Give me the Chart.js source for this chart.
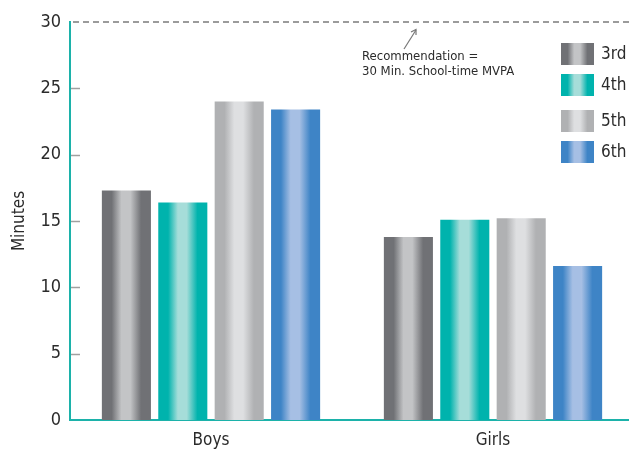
<!DOCTYPE html>
<html>
<head>
<meta charset="utf-8">
<title>School-time MVPA by grade</title>
<script src="https://cdn.jsdelivr.net/npm/chart.js@4"></script>
<style>
  html, body { margin: 0; padding: 0; background: #fff; overflow: hidden; }
  #wrap { width: 634px; height: 449px; position: relative; }
</style>
</head>
<body>
<div id="wrap"><canvas id="chart"></canvas></div>
<script>
var groups = ["Boys", "Girls"];
var grades = ["3rd", "4th", "5th", "6th"];
var minutes3rd = [17.3, 13.8];
var minutes4th = [16.4, 15.1];
var minutes5th = [24.0, 15.2];
var minutes6th = [23.4, 11.6];
var yTicks = [0, 5, 10, 15, 20, 25, 30];
var recommended = 30;
var noteLines = ["Recommendation =", "30 Min. School-time MVPA"];

// edge / highlight colours for each grade's cylinder shading
var shades = [
  { edge: "#707175", light: "#c3c4c6" },
  { edge: "#00b3ad", light: "#a6ddd9" },
  { edge: "#b0b1b3", light: "#dedfe1" },
  { edge: "#3e84c6", light: "#a6bfe4" }
];

var FONT = '"Liberation Sans Narrow", "DejaVu Sans Condensed", "Arial Narrow", sans-serif';
var TEAL = "#1cb2aa";

function cylinder(ctx, x0, x1, shade) {
  var g = ctx.createLinearGradient(x0, 0, x1, 0);
  g.addColorStop(0, shade.edge);
  g.addColorStop(0.2, shade.edge);
  g.addColorStop(0.4, shade.light);
  g.addColorStop(0.58, shade.light);
  g.addColorStop(0.8, shade.edge);
  g.addColorStop(1, shade.edge);
  return g;
}

// gives every bar its own horizontal gradient once positions are known
var shadingPlugin = {
  id: "shading",
  beforeDatasetsDraw: function (chart) {
    var ctx = chart.ctx;
    chart.data.datasets.forEach(function (ds, i) {
      chart.getDatasetMeta(i).data.forEach(function (bar) {
        var x0 = bar.x - bar.width / 2;
        var x1 = bar.x + bar.width / 2;
        bar.options = Object.assign({}, bar.options, {
          backgroundColor: cylinder(ctx, x0, x1, shades[i])
        });
      });
    });
  }
};

// dashed target line, inner tick marks, note and legend
var decorPlugin = {
  id: "decor",
  afterDraw: function (chart) {
    var ctx = chart.ctx;
    var y = chart.scales.y;
    var area = chart.chartArea;
    ctx.save();

    // recommendation line
    var yr = y.getPixelForValue(recommended);
    ctx.strokeStyle = "#9b9b9b";
    ctx.lineWidth = 2;
    ctx.setLineDash([6, 4]);
    ctx.beginPath();
    ctx.moveTo(area.left + 3, yr);
    ctx.lineTo(chart.width, yr);
    ctx.stroke();
    ctx.setLineDash([]);

    // short tick marks inside the plot
    ctx.strokeStyle = "#a0a0a0";
    ctx.lineWidth = 1.5;
    yTicks.forEach(function (v) {
      if (v === 0 || v === recommended) return;
      var py = Math.round(y.getPixelForValue(v)) + 0.5;
      ctx.beginPath();
      ctx.moveTo(area.left + 1, py);
      ctx.lineTo(area.left + 10, py);
      ctx.stroke();
    });

    // arrow pointing to the line
    ctx.strokeStyle = "#777";
    ctx.lineWidth = 1.2;
    ctx.beginPath();
    ctx.moveTo(404, 49);
    ctx.lineTo(416, 30);
    ctx.stroke();
    ctx.beginPath();
    ctx.moveTo(411, 32);
    ctx.lineTo(416, 29.5);
    ctx.lineTo(416, 35);
    ctx.stroke();

    ctx.fillStyle = "#2b2b2b";
    ctx.font = "13px " + FONT;
    ctx.textBaseline = "middle";
    ctx.textAlign = "left";
    noteLines.forEach(function (t, i) {
      ctx.fillText(t, 362, 57 + i * 15);
    });

    // legend
    var rows = [54, 85, 121, 152];
    ctx.font = "17px " + FONT;
    grades.forEach(function (g, i) {
      var top = rows[i] - 11;
      ctx.fillStyle = cylinder(ctx, 561, 594, shades[i]);
      ctx.fillRect(561, top, 33, 22);
      ctx.fillStyle = "#2b2b2b";
      ctx.fillText(g, 601, rows[i] + 1);
    });

    ctx.restore();
  }
};

var datasets = [minutes3rd, minutes4th, minutes5th, minutes6th].map(function (vals, i) {
  return {
    label: grades[i],
    data: vals,
    backgroundColor: shades[i].edge,
    borderWidth: 0,
    categoryPercentage: 0.8,
    barPercentage: 0.87
  };
});

new Chart(document.getElementById("chart"), {
  type: "bar",
  data: { labels: groups, datasets: datasets },
  plugins: [shadingPlugin, decorPlugin],
  options: {
    responsive: true,
    maintainAspectRatio: false,
    animation: false,
    layout: { padding: { top: 22, right: 0, left: 0, bottom: 0 } },
    plugins: {
      legend: { display: false },
      tooltip: { enabled: false }
    },
    scales: {
      x: {
        grid: { display: false },
        border: { display: true, color: TEAL, width: 2 },
        ticks: { color: "#2b2b2b", font: { family: FONT, size: 17 }, padding: 2 },
        afterFit: function (s) { s.height = 29; }
      },
      y: {
        min: 0,
        max: 30,
        afterBuildTicks: function (s) {
          s.ticks = yTicks.map(function (v) { return { value: v }; });
        },
        grid: { display: false, drawTicks: false },
        border: { display: true, color: TEAL, width: 2 },
        ticks: { color: "#2b2b2b", font: { family: FONT, size: 18 }, padding: 9 },
        title: {
          display: true,
          text: "Minutes",
          color: "#2b2b2b",
          font: { family: FONT, size: 17 },
          padding: { top: 9, bottom: 0 }
        },
        afterFit: function (s) { s.width = 70; }
      }
    }
  }
});
</script>
</body>
</html>
